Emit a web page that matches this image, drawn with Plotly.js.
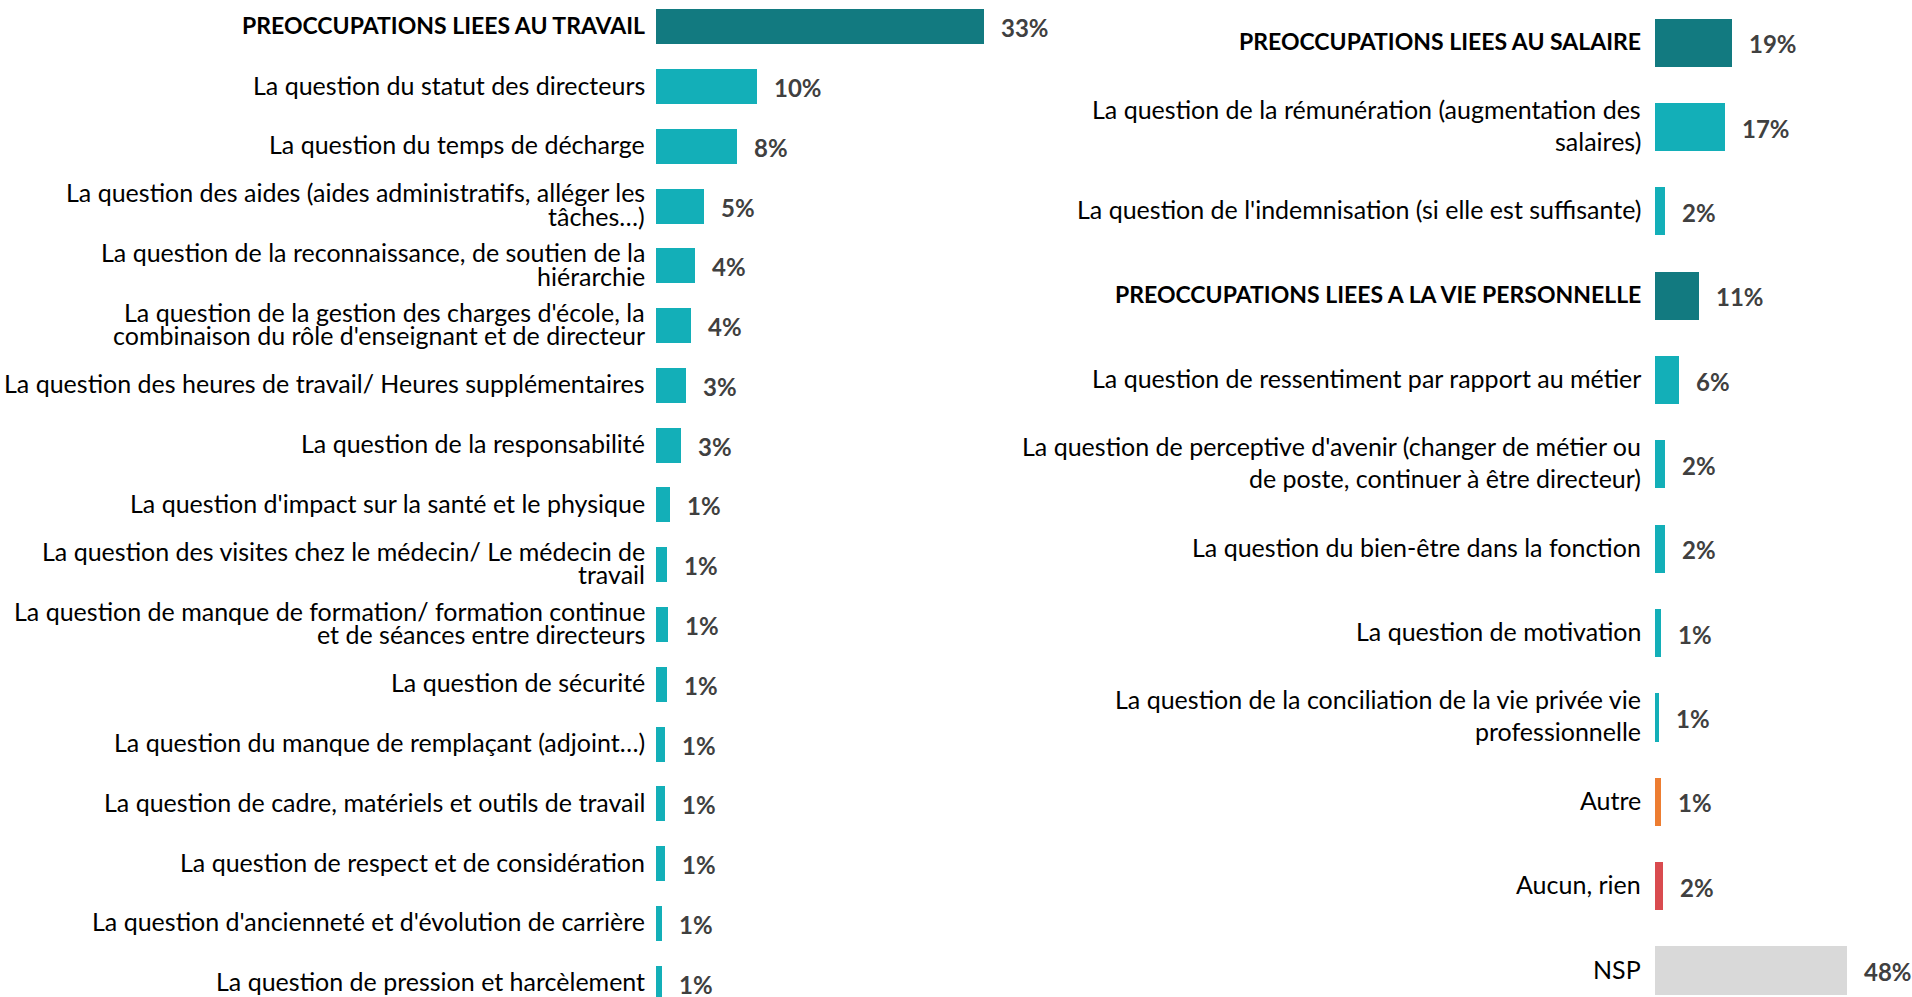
<!DOCTYPE html>
<html><head><meta charset="utf-8">
<script src="https://cdn.plot.ly/plotly-3.0.1.min.js"></script>
<style>html,body{margin:0;padding:0;background:#fff}#chart{width:1912px;height:997px}</style>
</head><body><div id="chart"></div>
<script>
// ---- Data ----
const leftLabels = [
  "PREOCCUPATIONS LIEES AU TRAVAIL",
  "La question du statut des directeurs",
  "La question du temps de décharge",
  "La question des aides (aides administratifs, alléger les<br>tâches…)",
  "La question de la reconnaissance, de soutien de la<br>hiérarchie",
  "La question de la gestion des charges d'école, la<br>combinaison du rôle d'enseignant et de directeur",
  "La question des heures de travail/ Heures supplémentaires",
  "La question de la responsabilité",
  "La question d'impact sur la santé et le physique",
  "La question des visites chez le médecin/ Le médecin de<br>travail",
  "La question de manque de formation/ formation continue<br>et de séances entre directeurs",
  "La question de sécurité",
  "La question du manque de remplaçant (adjoint…)",
  "La question de cadre, matériels et outils de travail",
  "La question de respect et de considération",
  "La question d'ancienneté et d'évolution de carrière",
  "La question de pression et harcèlement"
];
const leftValues = [32.8, 10.1, 8.1, 4.8, 3.9, 3.5, 3.0, 2.5, 1.4, 1.1, 1.2, 1.1, 0.9, 0.9, 0.9, 0.6, 0.6];
const leftKinds = ["header","item","item","item","item","item","item","item","item","item","item","item","item","item","item","item","item"];

const rightLabels = [
  "PREOCCUPATIONS LIEES AU SALAIRE",
  "La question de la rémunération (augmentation des<br>salaires)",
  "La question de l'indemnisation (si elle est suffisante)",
  "PREOCCUPATIONS LIEES A LA VIE PERSONNELLE",
  "La question de ressentiment par rapport au métier",
  "La question de perceptive d'avenir (changer de métier ou<br>de poste, continuer à être directeur)",
  "La question du bien-être dans la fonction",
  "La question de motivation",
  "La question de la conciliation de la vie privée vie<br>professionnelle",
  "Autre",
  "Aucun, rien",
  "NSP"
];
const rightValues = [19.3, 17.4, 2.4, 11.0, 6.0, 2.4, 2.4, 1.4, 1.1, 1.4, 2.0, 48.0];
const rightKinds = ["header","item","item","header","item","item","item","item","item","other","none","nsp"];

// ---- Styles ----
const kindColors = {header:"#127A80", item:"#13AFB8", other:"#ED7D31", none:"#D94B4F", nsp:"#D9D9D9"};
const FONT = "Lato, 'Open Sans', sans-serif";
const LABEL_SIZE = 25;
const HEADER_SIZE = 23;
const VALUE_SIZE = 24;
const W = 1912, H = 997;

function cats(labels){ return labels.map(l => l.replace(/<br>/g, " ")); }
const leftCats = cats(leftLabels);
const rightCats = cats(rightLabels);

const traces = [
  {type:"bar", orientation:"h", x:leftValues, y:leftCats, xaxis:"x", yaxis:"y",
   width:0.586, marker:{color:leftKinds.map(k=>kindColors[k])}, hoverinfo:"none", cliponaxis:false},
  {type:"bar", orientation:"h", x:rightValues, y:rightCats, xaxis:"x2", yaxis:"y2",
   width:0.57, marker:{color:rightKinds.map(k=>kindColors[k])}, hoverinfo:"none", cliponaxis:false}
];

const annotations = [];
function addLabels(labels, catsArr, values, kinds, xr, yr, lineSp, xshift, valShift){
  labels.forEach((lab, i) => {
    const lines = lab.split("<br>");
    const n = lines.length;
    const isHeader = kinds[i]==="header";
    lines.forEach((ln, j) => {
      annotations.push({
        xref:xr, yref:yr, x:0, y:catsArr[i], xanchor:"right", yanchor:"middle",
        xshift:xshift, yshift:((n-1)/2 - j)*lineSp + 2,
        text: isHeader ? "<b>"+ln+"</b>" : ln,
        showarrow:false, font:{family:FONT, size:isHeader ? HEADER_SIZE : LABEL_SIZE, color:"#000"}
      });
    });
    annotations.push({
      xref:xr, yref:yr, x:values[i], y:catsArr[i], xanchor:"left", yanchor:"middle",
      xshift:valShift, yshift:-1, text:"<b>"+Math.round(values[i])+"%</b>",
      showarrow:false, font:{family:FONT, size:VALUE_SIZE, color:"#404040"}
    });
  });
}
addLabels(leftLabels, leftCats, leftValues, leftKinds, "x", "y", 23.3, -9, 15);
addLabels(rightLabels, rightCats, rightValues, rightKinds, "x2", "y2", 32, -12, 15);

const axisBase = {showgrid:false, zeroline:false, showline:false, showticklabels:false, ticks:"", fixedrange:true};

const layout = {
  width:W, height:H, margin:{l:0,r:0,t:0,b:0},
  paper_bgcolor:"#fff", plot_bgcolor:"rgba(0,0,0,0)",
  showlegend:false, bargap:0,
  font:{family:FONT},
  xaxis:Object.assign({}, axisBase, {domain:[656/W, 1056/W], range:[0, 40]}),
  yaxis:Object.assign({}, axisBase, {type:"category", domain:[0,1], range:[16.232, -0.448], anchor:"x"}),
  xaxis2:Object.assign({}, axisBase, {domain:[1655/W, 1], range:[0, 257/4], anchor:"y2"}),
  yaxis2:Object.assign({}, axisBase, {type:"category", domain:[0,1], range:[11.314, -0.506], anchor:"x2"}),
  annotations:annotations
};

Plotly.newPlot("chart", traces, layout, {displayModeBar:false, staticPlot:true});
</script></body></html>
